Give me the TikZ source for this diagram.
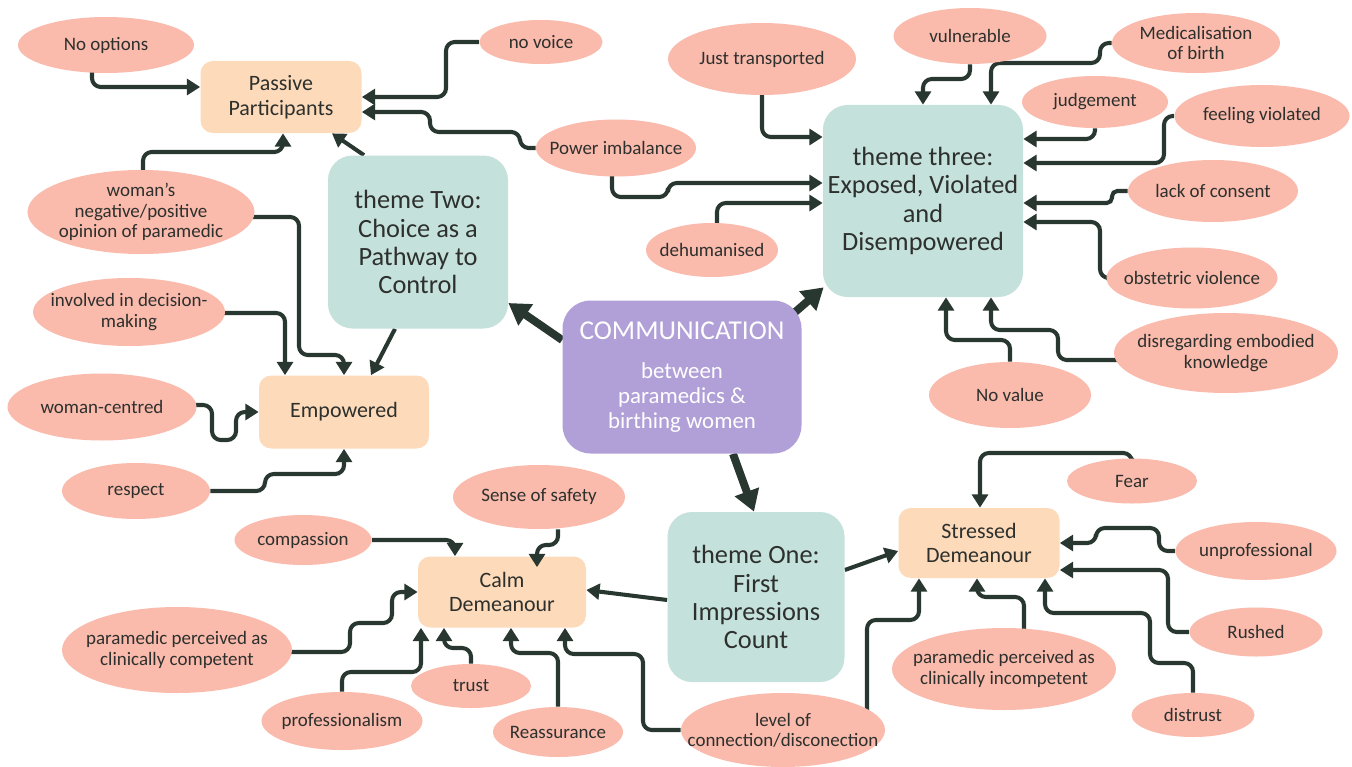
\documentclass[tikz,border=0pt]{standalone}
\usepackage{fontspec}
\setmainfont{Carlito}
\usetikzlibrary{shapes.geometric,arrows.meta,backgrounds,calc}
\definecolor{bub}{RGB}{250,186,172}
\definecolor{peach}{RGB}{253,219,186}
\definecolor{teal2}{RGB}{197,225,220}
\definecolor{purp}{RGB}{177,160,215}
\definecolor{ink}{RGB}{40,56,48}
\definecolor{txt}{RGB}{45,48,45}
\newcommand\fsz[2]{\fontsize{#1}{#2}\selectfont}
\newcommand\bub[6]{\node[bubble, wh={#4}{#5}] (#1) at (#2,#3) {}; \node[btext] (#1-t) at (#1) {#6};}
\begin{document}
\begin{tikzpicture}[x=0.02cm, y=-0.02cm,
 wh/.style 2 args={minimum width=#1*0.02cm, minimum height=#2*0.02cm},
 bubble/.style={ellipse, fill=bub, draw=none, inner sep=0pt},
 btext/.style={align=center, text=txt, font=\fsz{10.8}{11.5}, inner sep=0pt},
 pbox/.style={rectangle, rounded corners=7pt, fill=peach, align=center, text=txt, font=\fsz{12.5}{14}, inner sep=0pt},
 tbox/.style={rectangle, rounded corners=14pt, fill=teal2, align=center, text=txt, font=\fsz{15}{16}, inner sep=0pt},
 cbox/.style={rectangle, rounded corners=16pt, fill=purp, align=center, text=white, inner sep=0pt, font=\fsz{13}{14.2}},
 conn/.style={draw=ink, line width=2.3pt, rounded corners=5pt, -{Triangle[length=7.5pt,width=9pt]}},
 bigconn/.style={draw=ink, line width=4.5pt, -{Triangle[length=12pt,width=14pt]}},
]
\useasboundingbox (0,0) rectangle (1352,767);

% main boxes
\node[pbox, wh={161}{72}] (pp) at (281,97) {Passive\\Participants};
\node[pbox, wh={170}{73}] (emp) at (344,412) {Empowered};
\node[pbox, wh={168}{71}] (calm) at (502,592) {Calm\\Demeanour};
\node[pbox, wh={161}{70}] (stressed) at (979,543) {Stressed\\Demeanour};
\node[tbox, wh={180}{173}] (t2) at (418,242) {theme Two:\\Choice as a\\Pathway to\\Control};
\node[tbox, wh={200}{192}] (t3) at (923,201) {theme three:\\Exposed, Violated\\and\\Disempowered};
\node[tbox, wh={177}{170}] (t1) at (756,597) {theme One:\\First\\Impressions\\Count};
\node[cbox, wh={239}{153}] (comm) at (682,377) {{\fsz{15.5}{15.5}COMMUNICATION}\\[8pt]between\\paramedics \&\\birthing women};

% bubbles
\bub{noopt}{106}{45}{176}{56}{No options}
\bub{nvoice}{541}{42}{123}{44}{no voice}
\bub{power}{616}{148}{160}{57}{Power imbalance}
\bub{opinion}{141}{212}{227}{84}{woman’s\\negative/positive\\opinion of paramedic}
\bub{involved}{129}{312}{192}{68}{involved in decision-\\making}
\bub{wcentred}{102}{407}{189}{67}{woman-centred}
\bub{respect}{136}{491}{148}{56}{respect}
\bub{compassion}{303}{540}{137}{50}{compassion}
\bub{safety}{539}{497}{172}{64}{Sense of safety}
\bub{competent}{177}{650}{230}{86}{paramedic perceived as\\clinically competent}
\bub{prof}{342}{721}{161}{58}{professionalism}
\bub{trust}{471}{686}{120}{44}{trust}
\bub{reass}{558}{732}{130}{50}{Reassurance}
\bub{level}{783}{730}{204}{74}{level of\\connection/disconection}
\bub{just}{762}{59}{188}{72}{Just transported}
\bub{vuln}{970}{36}{153}{56}{vulnerable}
\bub{medic}{1196}{43}{168}{60}{Medicalisation\\of birth}
\bub{judge}{1095}{102}{146}{52}{judgement}
\bub{violated}{1262}{116}{175}{62}{feeling violated}
\bub{consent}{1213}{191}{170}{62}{lack of consent}
\bub{dehum}{712}{250}{132}{54}{dehumanised}
\bub{obst}{1192}{278}{171}{61}{obstetric violence}
\bub{disreg}{1226}{353}{224}{80}{disregarding embodied\\knowledge}
\bub{novalue}{1010}{395}{162}{66}{No value}
\bub{fear}{1132}{481}{130}{45}{Fear}
\bub{unprof}{1256}{551}{161}{58}{unprofessional}
\bub{rushed}{1256}{632}{133}{49}{Rushed}
\bub{incomp}{1004}{669}{224}{82}{paramedic perceived as\\clinically incompetent}
\bub{distrust}{1193}{715}{123}{44}{distrust}

% this arrow overlaps the top of its box, so it is drawn in front
\draw[conn] (safety.south -| 558,0) -- (558,545) -- (537,545) -- ($(calm.north -| 537,0)+(0,11)$);

\begin{scope}[on background layer]
\fill[white] (0,0) rectangle (1352,767);
% big arrows
\draw[bigconn] (comm.west |- 0,340) -- (t2.east |- 0,303);
\draw[bigconn] ($(comm.north east)+(-8,13)$) -- ($(t3.south west)+(1,-10)$);
\draw[bigconn] (comm.south -| 733,0) -- (t1.north -| 754,0);
% theme arrows
\draw[conn] (t2.north -| 364,0) -- (pp.south -| 332,0);
\draw[conn] (t2.south -| 395,0) -- (emp.north -| 371,0);
\draw[conn] (t1.west |- 0,600) -- (calm.east |- 0,590);
\draw[conn] (t1.east |- 0,570) -- (stressed.west |- 0,551);
% passive participants
\draw[conn] (noopt -| 92,0) -- (92,87) -- (pp.west |- 0,87);
\draw[conn] (nvoice) -- (446,42) -- (446,97) -- (pp.east |- 0,97);
\draw[conn] (power) -- (520,148) -- (520,132) -- (430,132) -- (430,112) -- (pp.east |- 0,112);
\draw[conn] (opinion -| 143,0) -- (143,152) -- (283,152) -- (pp.south -| 283,0);
% theme three
\draw[conn] (power -| 612,0) -- (612,197) -- (668,197) -- (668,183) -- (t3.west |- 0,183);
\draw[conn] (dehum -| 717,0) -- (717,203) -- (t3.west |- 0,203);
\draw[conn] (just -| 762,0) -- (762,137) -- (t3.west |- 0,137);
\draw[conn] (vuln) -- (970,79) -- (923,79) -- (t3.north -| 923,0);
\draw[conn] (medic) -- (1100,43) -- (1100,63) -- (991,63) -- (t3.north -| 991,0);
\draw[conn] (judge) -- (1095,139) -- (t3.east |- 0,139);
\draw[conn] (violated) -- (1164,116) -- (1164,163) -- (t3.east |- 0,163);
\draw[conn, rounded corners=3pt] (consent) -- (1112,191) -- (1112,203) -- (t3.east |- 0,203);
\draw[conn] (obst) -- (1100,278) -- (1100,222) -- (t3.east |- 0,222);
\draw[conn] (disreg |- 0,360) -- (1058,360) -- (1058,330) -- (991,330) -- (t3.south -| 991,0);
\draw[conn] (novalue) -- (1010,340) -- (946,340) -- (t3.south -| 946,0);
% empowered
\draw[conn] (opinion |- 0,217) -- (299,217) -- (299,355) -- (344,355) -- (emp.north -| 344,0);
\draw[conn] (involved |- 0,313) -- (285,313) -- (emp.north -| 285,0);
\draw[conn] (wcentred |- 0,405) -- (212,405) -- (212,440) -- (236,440) -- (236,412) -- (emp.west |- 0,412);
\draw[conn] (respect) -- (265,491) -- (265,474) -- (344,474) -- (emp.south -| 344,0);
% calm
\draw[conn] (compassion) -- (455,540) -- (calm.north -| 455,0);
\draw[conn] (competent |- 0,652) -- (350,652) -- (350,623) -- (392,623) -- (392,592) -- (calm.west |- 0,592);
\draw[conn] (prof) -- (342,672) -- (421,672) -- (calm.south -| 421,0);
\draw[conn] (trust) -- (471,648) -- (444,648) -- (calm.south -| 444,0);
\draw[conn] (reass) -- (558,653) -- (511,653) -- (calm.south -| 511,0);
\draw[conn] (level) -- (643,730) -- (643,654) -- (565,654) -- (calm.south -| 565,0);
% stressed
\draw[conn] (level -| 867,0) -- (867,620) -- (919,620) -- (stressed.south -| 919,0);
\draw[conn] (incomp -| 1024,0) -- (1024,597) -- (977,597) -- (stressed.south -| 977,0);
\draw[conn] (fear) -- (1132,453) -- (980,453) -- (stressed.north -| 980,0);
\draw[conn] (unprof) -- (1159,551) -- (1159,528) -- (1096,528) -- (1096,543) -- (stressed.east |- 0,543);
\draw[conn] (rushed) -- (1168,632) -- (1168,570) -- (stressed.east |- 0,570);
\draw[conn] (distrust) -- (1193,663) -- (1150,663) -- (1150,613) -- (1045,613) -- (stressed.south -| 1045,0);
\end{scope}
\end{tikzpicture}
\end{document}
